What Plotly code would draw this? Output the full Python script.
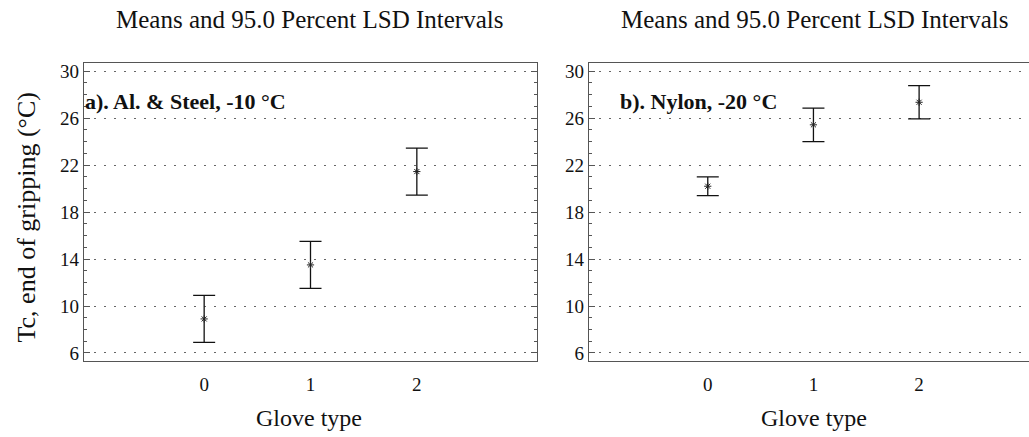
import plotly.graph_objects as go

# Data
glove_types = [0, 1, 2]
means_a = [8.9, 13.5, 21.45]
lsd_a = [2.0, 2.0, 2.0]
means_b = [20.2, 25.43, 27.35]
lsd_b = [0.8, 1.43, 1.42]
y_ticks = [6, 10, 14, 18, 22, 26, 30]
panel_titles = ["Means and 95.0 Percent LSD Intervals", "Means and 95.0 Percent LSD Intervals"]
panel_labels = ["a). Al. & Steel, -10 °C", "b). Nylon, -20 °C"]
x_title = "Glove type"
y_title = "Tc, end of gripping (°C)"

W, H = 1029, 437
SERIF = "Liberation Serif, Times New Roman, serif"
AX = "#555555"

fig = go.Figure()

for i, (m, e) in enumerate([(means_a, lsd_a), (means_b, lsd_b)]):
    fig.add_trace(go.Scatter(
        x=glove_types, y=m, mode="markers",
        xaxis="x" if i == 0 else "x2", yaxis="y" if i == 0 else "y2",
        marker=dict(symbol="asterisk-open", size=6, color="#222",
                    line=dict(width=1, color="#222")),
        error_y=dict(type="data", array=e, symmetric=True, width=11,
                     thickness=1.3, color="#111"),
        showlegend=False, hoverinfo="skip"))

y_dom = [1 - 363 / H, 1 - 62 / H]
x_dom1 = [84 / W, 537 / W]
x_dom2 = [589 / W, 1.0]

common_y = dict(range=[5.33, 30.67], tickvals=y_ticks, ticks="inside", ticklen=6,
                tickcolor=AX, showline=True, linecolor=AX, linewidth=1.2,
                showgrid=True, gridcolor="#666", griddash="2px,8px", gridwidth=1,
                zeroline=False, domain=y_dom,
                tickfont=dict(family=SERIF, size=19, color="#111"),
                minor=dict(dtick=1, tick0=0, ticks="inside", ticklen=3, tickcolor=AX, showgrid=False))
common_x = dict(tickvals=glove_types, ticks="", showline=True, linecolor=AX, linewidth=1.2,
                showgrid=False, zeroline=False,
                tickfont=dict(family=SERIF, size=19, color="#111"), ticklabelstandoff=6)

fig.update_layout(
    width=W, height=H, margin=dict(l=0, r=0, t=0, b=0),
    paper_bgcolor="white", plot_bgcolor="white",
    xaxis=dict(common_x, domain=x_dom1, range=[-1.13, 3.13], mirror=True, anchor="y"),
    yaxis=dict(common_y, mirror="ticks", anchor="x"),
    xaxis2=dict(common_x, domain=x_dom2, range=[-1.124, 3.04], mirror=True, anchor="y2"),
    yaxis2=dict(common_y, mirror=False, anchor="x2"),
)

ann = []
centers = [309, 814]
label_x = [83, 618]
for i in range(2):
    ann.append(dict(text=panel_titles[i], x=centers[i] / W, y=1 - 18 / H, xref="paper", yref="paper",
                    xanchor="center", yanchor="middle", showarrow=False,
                    font=dict(family=SERIF, size=25, color="#111")))
    ann.append(dict(text=x_title, x=centers[i] / W, y=1 - 421 / H, xref="paper", yref="paper",
                    xanchor="center", yanchor="middle", showarrow=False,
                    font=dict(family=SERIF, size=24, color="#111")))
    ann.append(dict(text="<b>" + panel_labels[i] + "</b>", x=label_x[i] / W, y=1 - 101 / H,
                    xref="paper", yref="paper", xanchor="left", yanchor="middle", showarrow=False,
                    font=dict(family=SERIF, size=22, color="#111")))
ann.append(dict(text=y_title, x=27 / W, y=1 - 218 / H, xref="paper", yref="paper",
                xanchor="center", yanchor="middle", showarrow=False, textangle=-90,
                font=dict(family=SERIF, size=26, color="#111")))
fig.update_layout(annotations=ann)

fig.write_html("out.html")
